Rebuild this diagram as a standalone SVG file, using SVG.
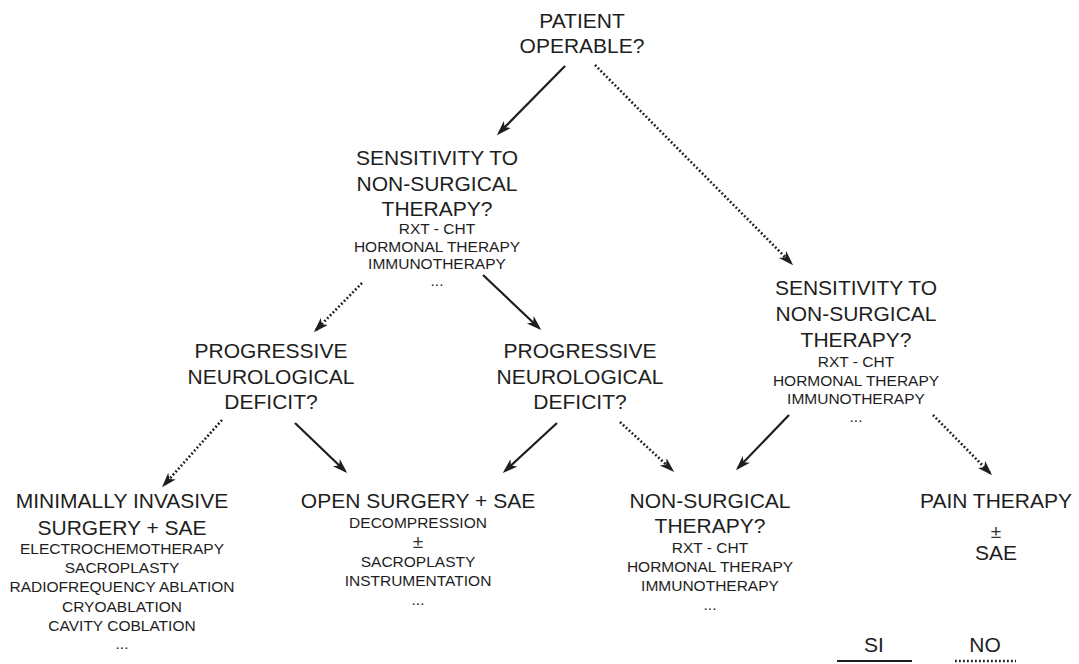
<svg xmlns="http://www.w3.org/2000/svg" width="1079" height="664" viewBox="0 0 1079 664">
  <style>
    text { font-family: "Liberation Sans", Arial, Helvetica, sans-serif; fill: #1e1e1e; text-anchor: middle; }
    .big { font-size: 21px; }
    .sm { font-size: 15.5px; }
    .pm { font-size: 19px; fill: #333; }
    .yes { fill: none; stroke: #1e1e1e; stroke-width: 2.2; }
    .no { fill: none; stroke: #1e1e1e; stroke-width: 2.6; stroke-dasharray: 1.8 2.2; }
    .head { fill: #1e1e1e; }
  </style>
  <defs>
    <marker id="arrow" markerUnits="userSpaceOnUse" markerWidth="16" markerHeight="12" refX="12" refY="5" orient="auto">
      <path class="head" d="M0,0 L15,5 L0,10 L4,5 z"/>
    </marker>
  </defs>
  <rect width="1079" height="664" fill="#fff"/>

  <!-- connectors: solid = SI, dotted = NO -->
  <g id="connectors">
    <line class="yes" x1="565" y1="66" x2="499" y2="133" marker-end="url(#arrow)"/>
    <line class="no" x1="595" y1="65" x2="791" y2="263" marker-end="url(#arrow)"/>
    <line class="no" x1="362" y1="283" x2="316" y2="330" marker-end="url(#arrow)"/>
    <line class="yes" x1="483" y1="275" x2="539" y2="328" marker-end="url(#arrow)"/>
    <line class="no" x1="222" y1="420" x2="164" y2="485" marker-end="url(#arrow)"/>
    <line class="yes" x1="295" y1="423" x2="345" y2="471" marker-end="url(#arrow)"/>
    <line class="yes" x1="557" y1="423" x2="505" y2="471" marker-end="url(#arrow)"/>
    <line class="no" x1="620" y1="422" x2="672" y2="470" marker-end="url(#arrow)"/>
    <line class="yes" x1="789" y1="415" x2="738" y2="468" marker-end="url(#arrow)"/>
    <line class="no" x1="933" y1="415" x2="990" y2="473" marker-end="url(#arrow)"/>
  </g>

  <g id="patient-operable">
    <text class="big" x="582" y="28">PATIENT</text>
    <text class="big" x="582" y="53">OPERABLE?</text>
  </g>

  <g id="sensitivity-operable">
    <text class="big" x="437" y="165">SENSITIVITY TO</text>
    <text class="big" x="437" y="190.5">NON-SURGICAL</text>
    <text class="big" x="437" y="216">THERAPY?</text>
    <text class="sm" x="437" y="234">RXT - CHT</text>
    <text class="sm" x="437" y="251.5">HORMONAL THERAPY</text>
    <text class="sm" x="437" y="269">IMMUNOTHERAPY</text>
    <text class="sm" x="437" y="286">...</text>
  </g>

  <g id="sensitivity-inoperable">
    <text class="big" x="856" y="295">SENSITIVITY TO</text>
    <text class="big" x="856" y="321">NON-SURGICAL</text>
    <text class="big" x="856" y="347">THERAPY?</text>
    <text class="sm" x="856" y="367">RXT - CHT</text>
    <text class="sm" x="856" y="385.5">HORMONAL THERAPY</text>
    <text class="sm" x="856" y="404">IMMUNOTHERAPY</text>
    <text class="sm" x="856" y="422">...</text>
  </g>

  <g id="deficit-left">
    <text class="big" x="271" y="358">PROGRESSIVE</text>
    <text class="big" x="271" y="383.5">NEUROLOGICAL</text>
    <text class="big" x="271" y="409">DEFICIT?</text>
  </g>

  <g id="deficit-right">
    <text class="big" x="580" y="358">PROGRESSIVE</text>
    <text class="big" x="580" y="383.5">NEUROLOGICAL</text>
    <text class="big" x="580" y="409">DEFICIT?</text>
  </g>

  <g id="minimally-invasive">
    <text class="big" x="122" y="508">MINIMALLY INVASIVE</text>
    <text class="big" x="122" y="535">SURGERY + SAE</text>
    <text class="sm" x="122" y="554">ELECTROCHEMOTHERAPY</text>
    <text class="sm" x="122" y="573">SACROPLASTY</text>
    <text class="sm" x="122" y="592">RADIOFREQUENCY ABLATION</text>
    <text class="sm" x="122" y="612">CRYOABLATION</text>
    <text class="sm" x="122" y="631">CAVITY COBLATION</text>
    <text class="sm" x="122" y="649">...</text>
  </g>

  <g id="open-surgery">
    <text class="big" x="418" y="508">OPEN SURGERY + SAE</text>
    <text class="sm" x="418" y="528">DECOMPRESSION</text>
    <text class="pm" x="418" y="548">±</text>
    <text class="sm" x="418" y="567">SACROPLASTY</text>
    <text class="sm" x="418" y="586">INSTRUMENTATION</text>
    <text class="sm" x="418" y="605">...</text>
  </g>

  <g id="non-surgical">
    <text class="big" x="710" y="508">NON-SURGICAL</text>
    <text class="big" x="710" y="533">THERAPY?</text>
    <text class="sm" x="710" y="553">RXT - CHT</text>
    <text class="sm" x="710" y="572">HORMONAL THERAPY</text>
    <text class="sm" x="710" y="591">IMMUNOTHERAPY</text>
    <text class="sm" x="710" y="610">...</text>
  </g>

  <g id="pain-therapy">
    <text class="big" x="996" y="508">PAIN THERAPY</text>
    <text class="pm" x="996" y="538">±</text>
    <text class="big" x="996" y="560">SAE</text>
  </g>

  <g id="legend">
    <text class="big" x="874" y="652">SI</text>
    <line class="yes" x1="837" y1="661" x2="912" y2="661"/>
    <text class="big" x="985" y="652">NO</text>
    <line class="no" x1="955" y1="661" x2="1016" y2="661"/>
  </g>
</svg>
